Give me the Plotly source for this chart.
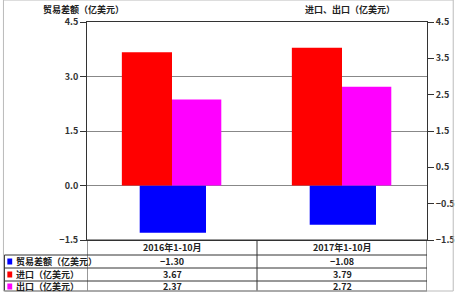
import plotly.graph_objects as go

categories = ["2016年1-10月", "2017年1-10月"]
balance = [-1.30, -1.08]
imports = [3.67, 3.79]
exports = [2.37, 2.72]
series_names = ["贸易差额（亿美元）", "进口（亿美元）", "出口（亿美元）"]
series_colors = ["#0000FF", "#FF0000", "#FF00FF"]
left_ticks = [-1.5, 0.0, 1.5, 3.0, 4.5]
right_ticks = [-1.5, -0.5, 0.5, 1.5, 2.5, 3.5, 4.5]

W, H = 467, 292
L, R, T, B = 87, 30, 22, 52
ph = H - T - B
pw = W - L - R

FONT = "Noto Sans CJK SC"
fig = go.Figure()
xi = list(range(len(categories)))
fig.add_trace(go.Bar(x=xi, y=balance, width=0.39, offset=-0.19,
                     marker=dict(color=series_colors[0], line=dict(width=0)),
                     yaxis="y", name=series_names[0]))
fig.add_trace(go.Bar(x=xi, y=imports, width=0.295, offset=-0.295,
                     marker=dict(color=series_colors[1], line=dict(width=0)),
                     yaxis="y2", name=series_names[1]))
fig.add_trace(go.Bar(x=xi, y=exports, width=0.29, offset=0.0,
                     marker=dict(color=series_colors[2], line=dict(width=0)),
                     yaxis="y2", name=series_names[2]))

def fmt(v):
    return f"{v:.2f}".replace("-", "−")

def py(px_below):
    return -px_below / ph

def px_x(px):
    return (px - L) / pw

def b(s):
    return "<b>" + s + "</b>"

shapes = []
annotations = []
line = dict(color="#333333", width=1)
row_b = [15, 28, 41, 51]
shapes.append(dict(type="line", xref="paper", yref="paper", x0=0, x1=1, y0=0, y1=0, line=line))
for rb in row_b:
    shapes.append(dict(type="line", xref="paper", yref="paper", x0=px_x(2), x1=1,
                       y0=py(rb), y1=py(rb), line=line))
shapes.append(dict(type="line", xref="paper", yref="paper", x0=px_x(2), x1=px_x(2),
                   y0=py(row_b[0]), y1=py(row_b[-1]), line=line))
for xv in [-0.5, 0.5, 1.5]:
    shapes.append(dict(type="line", xref="x", yref="paper", x0=xv, x1=xv,
                       y0=0, y1=py(row_b[-1]), line=line))
shapes.append(dict(type="rect", xref="paper", yref="paper", x0=px_x(1), x1=px_x(464),
                   y0=py(H - T - 1 - ph), y1=(ph + T) / ph, line=dict(color="#BBBBBB", width=1)))

tf = dict(family=FONT, size=9, color="#222222")
for i, c in enumerate(categories):
    annotations.append(dict(x=i, y=py(7.5), xref="x", yref="paper", text=b(c),
                            showarrow=False, font=tf, yanchor="middle"))
rows = [balance, imports, exports]
centers = [21.5, 34.5, 46.5]
for r, (vals, nm, col, cy) in enumerate(zip(rows, series_names, series_colors, centers)):
    for i, v in enumerate(vals):
        annotations.append(dict(x=i, y=py(cy), xref="x", yref="paper", text=b(fmt(v)),
                                showarrow=False, font=tf, yanchor="middle"))
    annotations.append(dict(x=px_x(12), y=py(cy), xref="paper", yref="paper", text=b(nm),
                            showarrow=False, font=tf, xanchor="left", yanchor="middle"))
    shapes.append(dict(type="rect", xref="paper", yref="paper", x0=px_x(5), x1=px_x(10),
                       y0=py(cy + 3), y1=py(cy - 3), fillcolor=col, line=dict(width=0)))

annotations.append(dict(x=px_x(40), y=(ph + T - 9) / ph, xref="paper", yref="paper",
                        text=b("贸易差额（亿美元）"), showarrow=False, font=tf,
                        xanchor="left", yanchor="middle"))
annotations.append(dict(x=px_x(406), y=(ph + T - 9) / ph, xref="paper", yref="paper",
                        text=b("进口、出口（亿美元）"), showarrow=False, font=tf,
                        xanchor="right", yanchor="middle"))

axfont = dict(family=FONT, size=9, color="#333333")
fig.update_layout(
    width=W, height=H,
    margin=dict(l=L, r=R, t=T, b=B),
    paper_bgcolor="white", plot_bgcolor="white",
    showlegend=False, barmode="overlay",
    xaxis=dict(range=[-0.5, 1.5], showticklabels=False, ticks="", showgrid=False,
               zeroline=False, showline=True, linecolor="#333333", mirror=True, fixedrange=True),
    yaxis=dict(range=[-1.5, 4.5], tickvals=left_ticks, ticktext=[b(f"{v:.1f}".replace("-", "−")) for v in left_ticks],
               ticks="outside", ticklen=6, tickcolor="#333333", showgrid=True, gridcolor="#888888",
               gridwidth=1, zeroline=False, showline=True, linecolor="#333333",
               tickfont=axfont, fixedrange=True),
    yaxis2=dict(range=[-1.5, 4.5], tickvals=right_ticks, ticktext=[b(f"{v:.1f}".replace("-", "−")) for v in right_ticks],
                overlaying="y", side="right", ticks="outside", ticklen=6, tickcolor="#333333",
                showgrid=False, zeroline=False, showline=True, linecolor="#333333",
                tickfont=axfont, fixedrange=True),
    shapes=shapes, annotations=annotations,
)
fig.write_html("out.html", config={"displayModeBar": False})
